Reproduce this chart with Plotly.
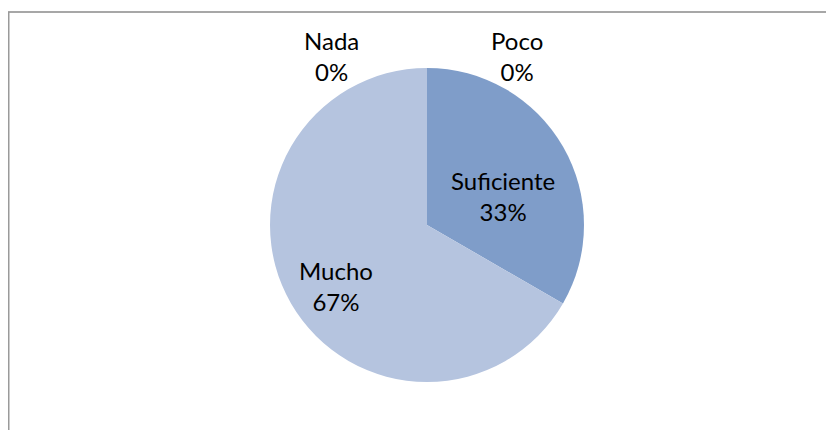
import plotly.graph_objects as go

W, H = 834, 430
OFF = 8  # page body margin offset of the figure in the browser

categories = ["Nada", "Poco", "Suficiente", "Mucho"]
values = [0, 0, 1, 2]
colors = ["#4F81BD", "#C0504D", "#7F9DC9", "#B5C4DF"]

FONT = "Lato, 'Open Sans', sans-serif"
FS = 24

# label centers in screen pixels (style/layout only)
label_pos = {"Nada": (331, 56), "Poco": (517, 56), "Suficiente": (503, 196), "Mucho": (336, 286)}


def px(x):
    return (x - OFF) / W


def py(y):
    return 1 - (y - OFF) / H


cx, cy, r = 427, 225, 157

fig = go.Figure()
fig.add_trace(go.Pie(
    labels=categories,
    values=values,
    sort=False,
    direction="clockwise",
    rotation=0,
    marker=dict(colors=colors, line=dict(width=0)),
    textinfo="none",
    showlegend=False,
    hoverinfo="label+percent",
    domain=dict(x=[px(cx - r), px(cx + r)], y=[py(cy + r), py(cy - r)]),
))

total = sum(values)
for cat, v in zip(categories, values):
    x, y = label_pos[cat]
    fig.add_annotation(
        x=px(x), y=py(y), xref="paper", yref="paper",
        text=f"{cat}<br>{round(100 * v / total)}%", showarrow=False,
        font=dict(family=FONT, size=FS, color="#000000"),
        xanchor="center", yanchor="middle", align="center",
    )

# chart frame (partially visible)
fig.add_shape(type="line", xref="paper", yref="paper",
              x0=px(8), x1=1.0, y0=py(12), y1=py(12),
              line=dict(color="#8a8a8a", width=1.5))
fig.add_shape(type="line", xref="paper", yref="paper",
              x0=px(8.5), x1=px(8.5), y0=py(12), y1=0,
              line=dict(color="#9a9a9a", width=2))

fig.update_layout(
    width=W, height=H,
    margin=dict(l=0, r=0, t=0, b=0),
    paper_bgcolor="#ffffff",
    plot_bgcolor="#ffffff",
    font=dict(family=FONT, size=FS, color="#000000"),
)

fig.write_html("out.html")
